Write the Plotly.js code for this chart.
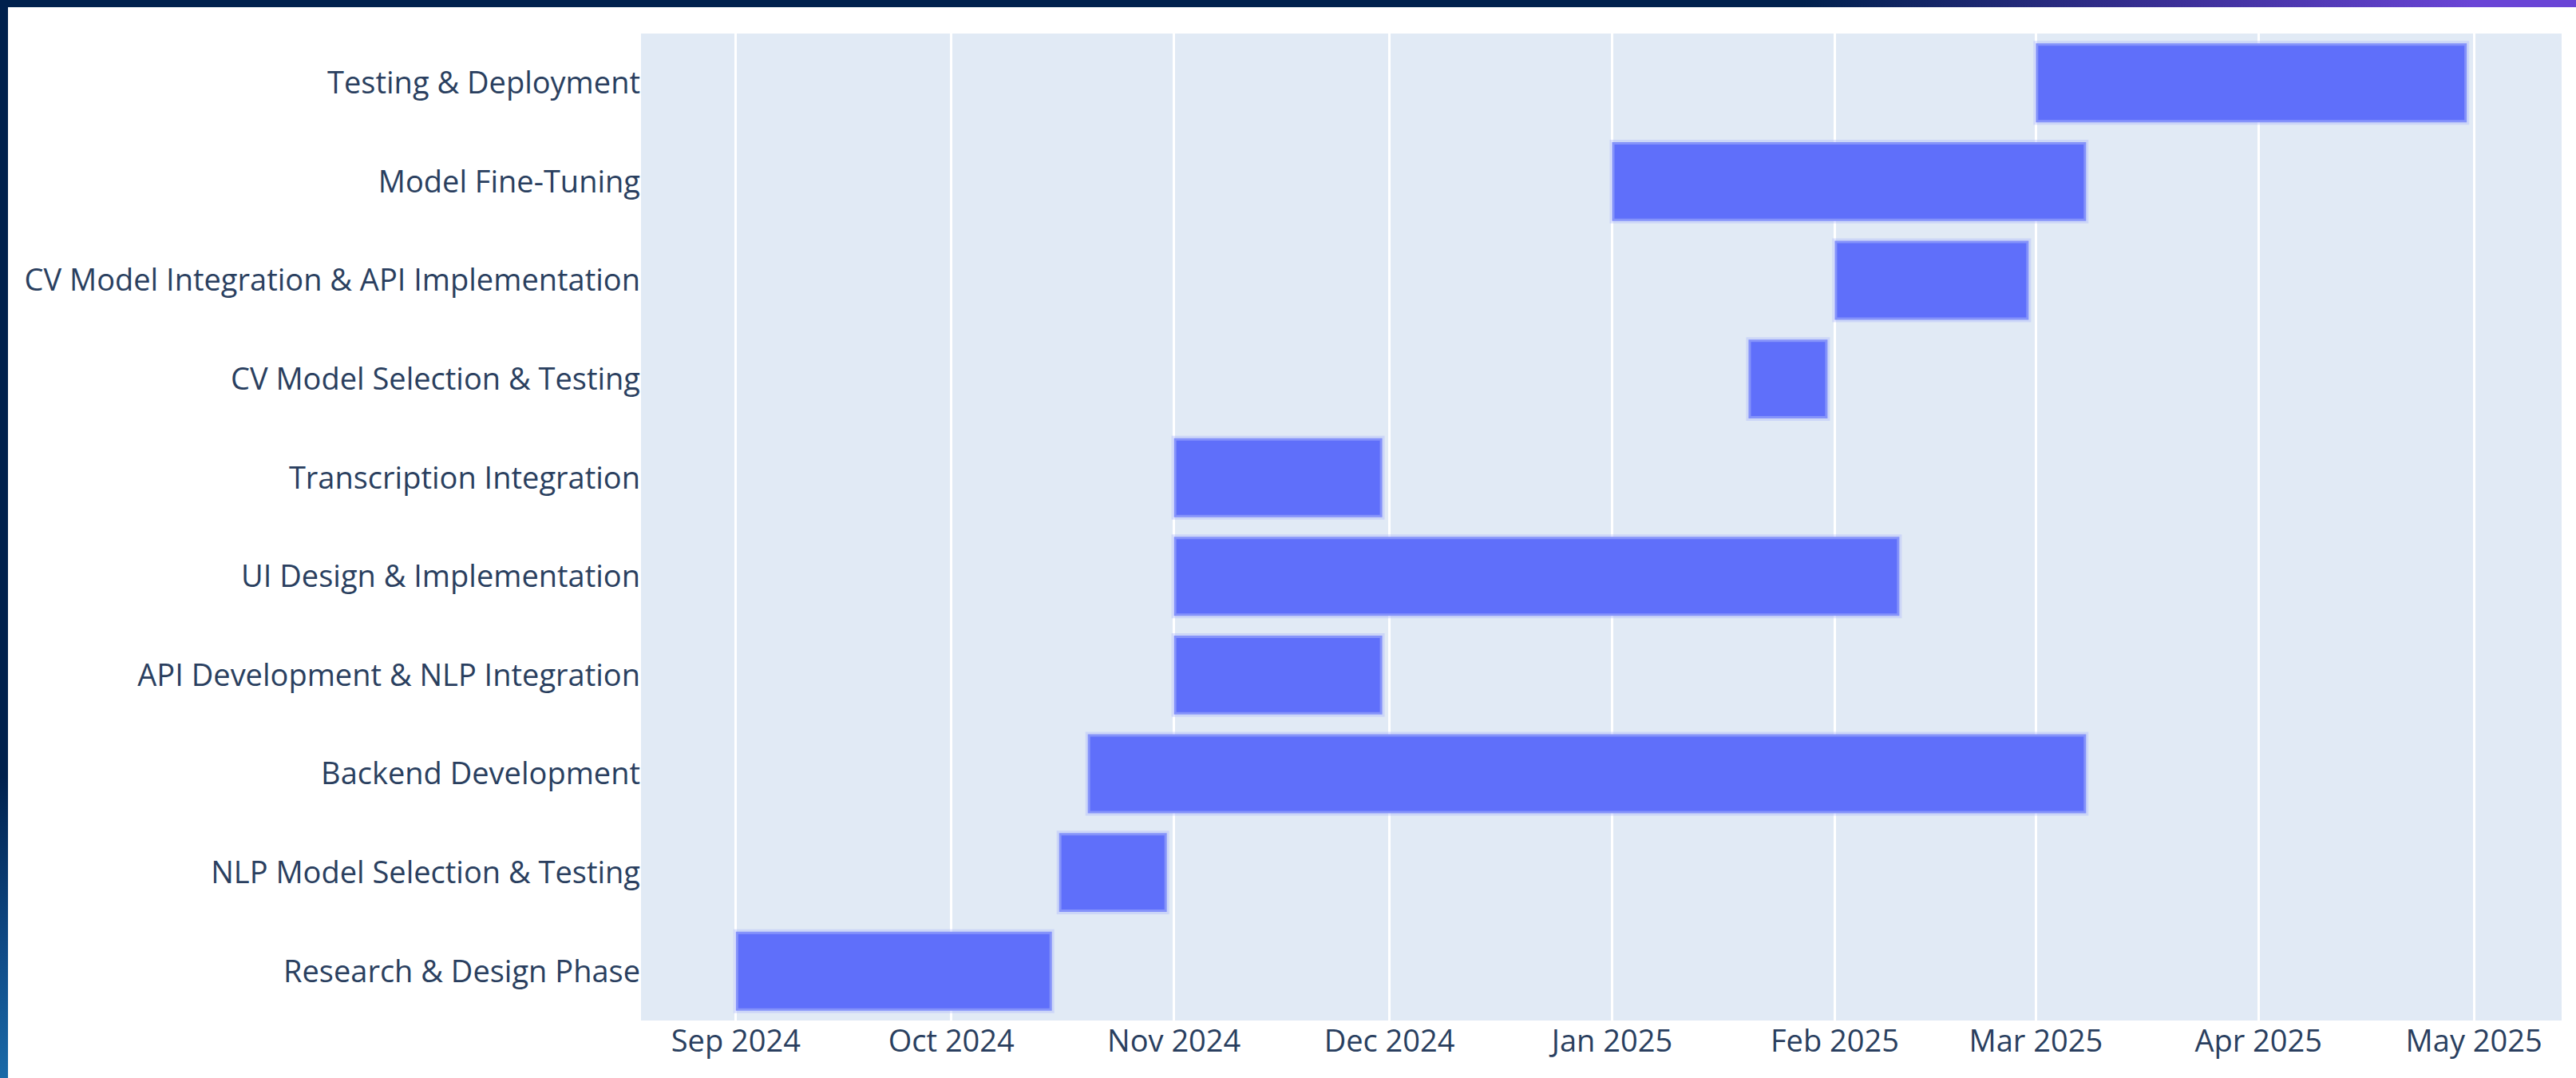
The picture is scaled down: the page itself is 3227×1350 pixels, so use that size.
<!DOCTYPE html>
<html>
<head>
<meta charset="utf-8">
<script src="https://cdn.plot.ly/plotly-3.0.1.min.js"></script>
<style>
  html, body { margin: 0; padding: 0; background: #ffffff; overflow: hidden; }
  #wrap { position: relative; width: 3227px; height: 1350px; }
  #chart { position: absolute; left: 0; top: 0; width: 3227px; height: 1350px; }
  #topbar { position: absolute; left: 0; top: 0; width: 3227px; height: 9px; z-index: 5;
    background: linear-gradient(to right, #00214d 0%, #00214d 70%, #3a2f95 84%, #6a45d6 96%, #6a45d6 100%); }
  #leftbar { position: absolute; left: 0; top: 0; width: 10px; height: 1350px; z-index: 6;
    background: linear-gradient(to bottom, #00214d 0%, #00214d 72%, #0f4a86 88%, #1a6aa8 100%); }
</style>
</head>
<body>
<div id="wrap">
  <div id="chart"></div>
  <div id="topbar"></div>
  <div id="leftbar"></div>
</div>
<script>
// Tasks (bottom to top)
const tasks = [
  "Research & Design Phase",
  "NLP Model Selection & Testing",
  "Backend Development",
  "API Development & NLP Integration",
  "UI Design & Implementation",
  "Transcription Integration",
  "CV Model Selection & Testing",
  "CV Model Integration & API Implementation",
  "Model Fine-Tuning",
  "Testing & Deployment"
];
const startDates = [
  "2024-09-01", "2024-10-16", "2024-10-20", "2024-11-01", "2024-11-01",
  "2024-11-01", "2025-01-20", "2025-02-01", "2025-01-01", "2025-03-01"
];
const endDates = [
  "2024-10-15", "2024-10-31", "2025-03-08", "2024-11-30", "2025-02-10",
  "2024-11-30", "2025-01-31", "2025-02-28", "2025-03-08", "2025-04-30"
];
const xRange = ["2024-08-18 19:00", "2025-05-13 05:00"];

const durations = startDates.map((s, i) => Date.parse(endDates[i] + "T00:00:00Z") - Date.parse(s + "T00:00:00Z"));

const trace = {
  type: "bar",
  orientation: "h",
  y: tasks,
  x: durations,
  base: startDates,
  width: 0.8,
  marker: { color: "#5f6ffa", line: { color: "rgba(180,190,250,0.45)", width: 6 } },
  hoverinfo: "skip",
  showlegend: false
};

const layout = {
  width: 3227,
  height: 1350,
  margin: { l: 803, r: 18, t: 42, b: 72, pad: 0 },
  paper_bgcolor: "#ffffff",
  plot_bgcolor: "#e1eaf5",
  font: { family: "Open Sans, verdana, arial, sans-serif", size: 38, color: "#2a3f5f" },
  bargap: 0.2,
  xaxis: {
    type: "date",
    range: xRange,
    showgrid: true,
    gridcolor: "#ffffff",
    gridwidth: 3,
    zeroline: false,
    ticks: "",
    dtick: "M1",
    tick0: "2024-09-01",
    tickformat: "%b %Y",
    tickfont: { size: 38, color: "#2a3f5f" },
    title: { text: "" }
  },
  yaxis: {
    type: "category",
    categoryorder: "array",
    categoryarray: tasks,
    range: [-0.5, 9.5],
    showgrid: false,
    zeroline: false,
    ticks: "",
    tickfont: { size: 38, color: "#2a3f5f" },
    title: { text: "" }
  }
};

Plotly.newPlot("chart", [trace], layout, { staticPlot: true, displayModeBar: false });
</script>
</body>
</html>
